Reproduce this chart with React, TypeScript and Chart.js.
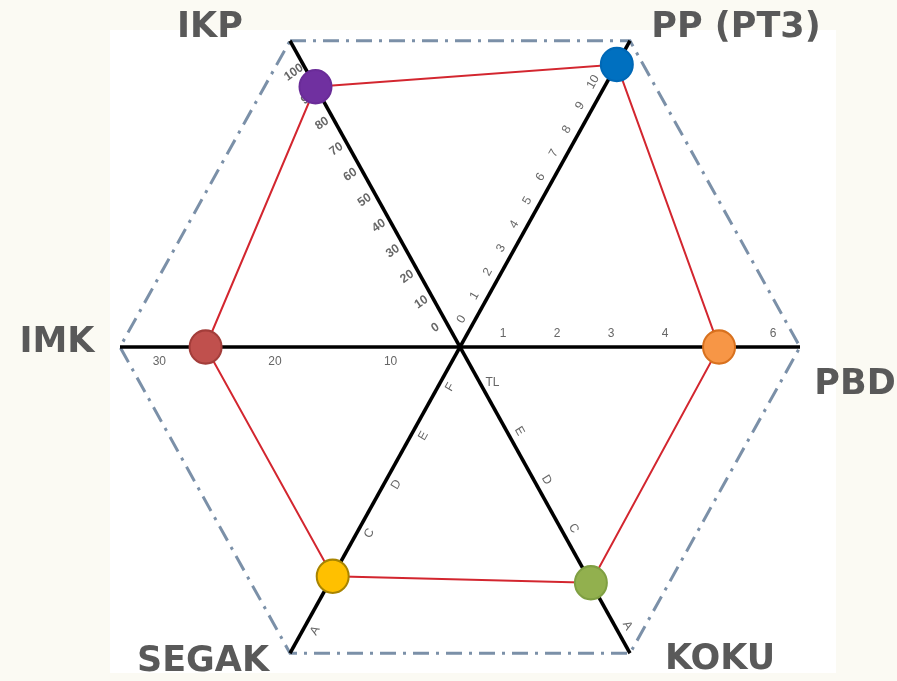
import React, { useEffect, useRef } from 'react';
import { Chart, registerables } from 'chart.js';

Chart.register(...registerables);

// ---- data ----
const AXIS_NAMES = ['IKP', 'PP (PT3)', 'PBD', 'KOKU', 'SEGAK', 'IMK'];

const IKP_TICKS = [0, 10, 20, 30, 40, 50, 60, 70, 80, 90, 100];
const PP_TICKS = [0, 1, 2, 3, 4, 5, 6, 7, 8, 9, 10];
const PBD_TICKS = [1, 2, 3, 4, 6];
const KOKU_GRADES = ['TL', 'E', 'D', 'C', 'B', 'A'];
const SEGAK_GRADES = ['F', 'E', 'D', 'C', 'B', 'A'];
const IMK_TICKS = [10, 20, 30];

const IKP_SCORE = 92;
const PP_SCORE = 11;
const PBD_SCORE = 5;
const KOKU_GRADE = 'B';
const SEGAK_GRADE = 'B';
const IMK_SCORE = 26;

// value found at the hub and at the outer corner of each axis
const AXIS_RANGES: [number, number][] = [
  [-10, 110],
  [-0.9, 12.0],
  [0.2, 6.5],
  [-0.85, 5.45],
  [-0.71, 5.58],
  [4, 33.4],
];

const frac = (axis: number, v: number) => {
  const [lo, hi] = AXIS_RANGES[axis];
  return (v - lo) / (hi - lo);
};

const AXIS_TICKS: { v: number; t: string }[][] = [
  IKP_TICKS.map((v) => ({ v, t: String(v) })),
  PP_TICKS.map((v) => ({ v, t: String(v) })),
  PBD_TICKS.map((v) => ({ v, t: String(v) })),
  KOKU_GRADES.filter((g) => g !== KOKU_GRADE).map((g) => ({ v: KOKU_GRADES.indexOf(g), t: g })),
  SEGAK_GRADES.filter((g) => g !== SEGAK_GRADE).map((g) => ({ v: SEGAK_GRADES.indexOf(g), t: g })),
  IMK_TICKS.map((v) => ({ v, t: String(v) })),
];

const SCORES = [
  IKP_SCORE,
  PP_SCORE,
  PBD_SCORE,
  KOKU_GRADES.indexOf(KOKU_GRADE),
  SEGAK_GRADES.indexOf(SEGAK_GRADE),
  IMK_SCORE,
];

// ---- styles ----
const Y_STRETCH = 1.04;
const POINT_COLORS = ['#7030a0', '#0070c0', '#f79646', '#92b04e', '#ffc000', '#c0504d'];
const POINT_BORDERS = ['#6a2c98', '#0068b6', '#d8711e', '#7f9f42', '#a88400', '#a33d3a'];
const TICK_ROT = [-35, -60, 0, 60, -60, 0];
const TICK_OFFSET = [12, 12, 13, 11, 11, 14];
const NAME_OFFSETS: [number, number][] = [
  [-80, -13],
  [106, -13],
  [55, 38],
  [90, 7],
  [-87, 9],
  [-63, -4],
];

const bgPlugin = {
  id: 'bg',
  beforeDraw(chart: any) {
    const { ctx, width, height } = chart;
    ctx.fillStyle = '#fbfaf3';
    ctx.fillRect(0, 0, width, height);
    ctx.fillStyle = '#ffffff';
    ctx.fillRect(110, 30, 726, 643);
    const cy = chart.scales.r.yCenter;
    ctx.save();
    ctx.translate(0, cy);
    ctx.scale(1, Y_STRETCH);
    ctx.translate(0, -cy);
  },
  afterDatasetsDraw(chart: any) {
    chart.ctx.restore();
  },
};

const tickPlugin = {
  id: 'axisTicks',
  beforeDatasetsDraw(chart: any) {
    const scale = chart.scales.r;
    const ctx = chart.ctx;
    ctx.save();
    ctx.fillStyle = '#666666';
    ctx.textAlign = 'center';
    ctx.textBaseline = 'middle';
    AXIS_TICKS.forEach((ticks, i) => {
      ctx.font = i === 0 ? 'bold 12px "Liberation Sans"' : '12px "Liberation Sans"';
      ticks.forEach((tk) => {
        const d = scale.getDistanceFromCenterForValue(frac(i, tk.v));
        const p = scale.getPointPosition(i, d);
        const n = p.angle - Math.PI / 2;
        const x = p.x + Math.cos(n) * TICK_OFFSET[i];
        const y = p.y + Math.sin(n) * TICK_OFFSET[i];
        ctx.save();
        ctx.translate(x, y);
        const rot = tk.t === 'TL' ? 0 : TICK_ROT[i];
        ctx.rotate((rot * Math.PI) / 180);
        ctx.fillText(tk.t, 0, 0);
        ctx.restore();
      });
    });
    ctx.restore();
  },
};

const namePlugin = {
  id: 'axisNames',
  afterDraw(chart: any) {
    const scale = chart.scales.r;
    const ctx = chart.ctx;
    const cy = scale.yCenter;
    ctx.save();
    ctx.fillStyle = '#595959';
    ctx.font = 'bold 35px "DejaVu Sans"';
    ctx.textAlign = 'center';
    ctx.textBaseline = 'middle';
    AXIS_NAMES.forEach((name, i) => {
      const p = scale.getPointPosition(i, scale.getDistanceFromCenterForValue(1));
      const y = cy + (p.y - cy) * Y_STRETCH;
      ctx.fillText(name, p.x + NAME_OFFSETS[i][0], y + NAME_OFFSETS[i][1]);
    });
    ctx.restore();
  },
};

export default function App() {
  const ref = useRef<HTMLCanvasElement>(null);
  useEffect(() => {
    const chart = new Chart(ref.current as HTMLCanvasElement, {
      type: 'radar',
      data: {
        labels: AXIS_NAMES,
        datasets: [
          {
            data: SCORES.map((v, i) => frac(i, v)),
            borderColor: '#d3262f',
            borderWidth: 2,
            fill: false,
            tension: 0,
            pointRadius: 16,
            pointHoverRadius: 16,
            pointBorderWidth: 2,
            pointBackgroundColor: POINT_COLORS,
            pointBorderColor: POINT_BORDERS,
          },
        ],
      },
      options: {
        responsive: false,
        animation: false,
        events: [],
        layout: { padding: { left: 120, right: 97, top: 7, bottom: 13 } },
        plugins: { legend: { display: false }, tooltip: { enabled: false } },
        scales: {
          r: {
            min: 0,
            max: 1,
            startAngle: -30,
            ticks: { display: false, stepSize: 1 },
            pointLabels: { display: false },
            angleLines: { color: '#000000', lineWidth: 3.5 },
            grid: {
              color: (c: any) => (c.index === 1 ? '#7b90a8' : 'rgba(0,0,0,0)'),
              lineWidth: 3,
            },
            border: { dash: [16, 7, 3, 7] },
          } as any,
        },
      },
      plugins: [bgPlugin, tickPlugin, namePlugin],
    });
    return () => chart.destroy();
  }, []);
  return (
    <div
      style={{
        position: 'fixed',
        left: 0,
        top: 0,
        width: 897,
        height: 681,
        overflow: 'hidden',
        background: '#fbfaf3',
      }}
    >
      <canvas ref={ref} width={897} height={700} style={{ display: 'block', width: 897, height: 700 }} />
    </div>
  );
}
